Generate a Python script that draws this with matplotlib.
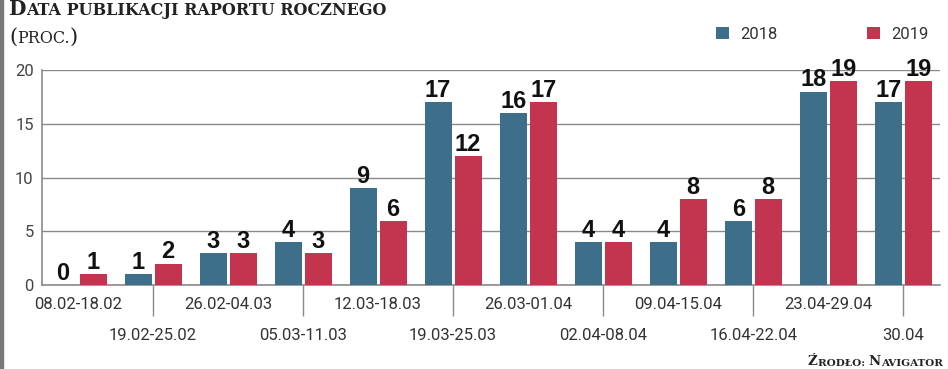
import matplotlib as mpl
mpl.use('Agg')
import matplotlib.pyplot as plt
import numpy as np
from matplotlib.patches import Rectangle

# data:
periods = ['08.02-18.02', '19.02-25.02', '26.02-04.03', '05.03-11.03',
           '12.03-18.03', '19.03-25.03', '26.03-01.04', '02.04-08.04',
           '09.04-15.04', '16.04-22.04', '23.04-29.04', '30.04']
values_2018 = [0, 1, 3, 4, 9, 17, 16, 4, 4, 6, 18, 17]
values_2019 = [1, 2, 3, 3, 6, 12, 17, 4, 8, 8, 19, 19]
y_ticks = [0, 5, 10, 15, 20]

COLOR_2018 = '#3e6f8a'
COLOR_2019 = '#c3344f'
NUM_FONT = ['Liberation Sans Narrow', 'Liberation Sans', 'DejaVu Sans']
TICK_FONT = ['Roboto', 'DejaVu Sans']


def main():
    plot_dates()


def chain(fig, x, y, parts, **kw):
    # chain text pieces left to right, to fake small caps
    prev = fig.text(x, y, parts[0][0], fontsize=parts[0][1], va='bottom', ha='left', **kw)
    for text, size in parts[1:]:
        prev = fig.axes[0].annotate(text, xy=(1, 0), xycoords=prev, va='bottom', ha='left',
                                    fontsize=size, annotation_clip=False, **kw)


def plot_dates():
    figure = plt.figure(figsize=(9.48, 3.69), dpi=100)
    axes = figure.add_axes([42 / 948, 84 / 369, 898 / 948, 215 / 369])

    x = np.arange(len(periods))
    width = 0.36
    bars18 = axes.bar(x - 0.2, values_2018, width, color=COLOR_2018, label='2018', zorder=3)
    bars19 = axes.bar(x + 0.2, values_2019, width, color=COLOR_2019, label='2019', zorder=3)

    # value labels:
    for bars, vals in ((bars18, values_2018), (bars19, values_2019)):
        for b, v in zip(bars, vals):
            axes.text(b.get_x() + b.get_width() / 2, v, str(v), ha='center', va='bottom',
                      fontsize=17, fontweight='bold', family=NUM_FONT, color='#111111',
                      clip_on=False, zorder=4)

    # axes make-up:
    axes.set_xlim(-0.48, 11.49)
    axes.set_ylim(0, 20)
    axes.set_yticks(y_ticks)
    axes.set_yticklabels([str(t) for t in y_ticks], family=TICK_FONT, fontsize=12, color='#444444')
    axes.tick_params(axis='y', length=0, pad=6)
    axes.grid(axis='y', color='#8a8a8a', lw=1, zorder=0)
    for side in ('top', 'right'):
        axes.spines[side].set_visible(False)
    for side in ('left', 'bottom'):
        axes.spines[side].set_color('#8a8a8a')
        axes.spines[side].set_linewidth(1.2)

    # x labels in two rows, with lines down to the lower row:
    axes.set_xticks(x[1::2], minor=True)
    axes.set_xticks([])
    axes.tick_params(axis='x', which='minor', length=22, width=1, color='#8a8a8a')
    for i, label in enumerate(periods):
        ypos = -0.093 if i % 2 == 0 else -0.233
        axes.text(x[i], ypos, label, transform=axes.get_xaxis_transform(), ha='center',
                  va='center', fontsize=12, family=TICK_FONT, color='#333333')

    # legend:
    axes.legend(loc='upper left', bbox_to_anchor=(716 / 948, 1 - 27 / 369),
                bbox_transform=figure.transFigure, ncol=2, frameon=False,
                prop={'family': TICK_FONT, 'size': 12}, handlelength=0.75, handleheight=0.75,
                handletextpad=0.7, columnspacing=5.4, borderpad=0, borderaxespad=0,
                labelcolor='#333333')

    # title and source:
    serif = {'family': 'DejaVu Serif', 'color': '#222222'}
    chain(figure, 9 / 948, 1 - 19 / 369, [('D', 14.5), ('ATA PUBLIKACJI RAPORTU ROCZNEGO', 11.5)],
          fontweight='bold', **serif)
    chain(figure, 9 / 948, 1 - 47 / 369, [('(', 15), ('PROC.', 11.5), (')', 15)], **serif)
    chain(figure, 808 / 948, 1 / 369, [('Ź', 9.5), ('RODŁO: ', 7.5), ('N', 9.5), ('AVIGATOR', 7.5)],
          fontweight='bold', **serif)

    # grey edge on the left:
    figure.patches.append(Rectangle((0, 0), 3 / 948, 1, transform=figure.transFigure,
                                    color='#777777', figure=figure))

    figure.savefig('out.png', dpi=100)


if __name__ == '__main__':
    main()
